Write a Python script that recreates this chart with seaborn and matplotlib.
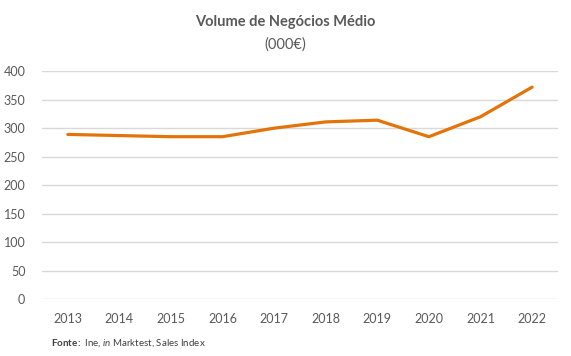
import pandas as pd
import matplotlib
matplotlib.use("Agg")
import matplotlib.pyplot as plt
import seaborn as sns

anos = ["2013", "2014", "2015", "2016", "2017", "2018", "2019", "2020", "2021", "2022"]
volume = [289, 287, 285, 285, 300, 311, 314, 285, 320, 372]
y_ticks = [0, 50, 100, 150, 200, 250, 300, 350, 400]

df = pd.DataFrame({"ano": anos, "volume": volume})

sns.set_theme(style="white")
plt.rcParams["font.family"] = ["Lato", "DejaVu Sans"]
plt.rcParams["mathtext.fontset"] = "custom"
plt.rcParams["mathtext.rm"] = "Lato"
plt.rcParams["mathtext.it"] = "Lato:italic"
plt.rcParams["mathtext.bf"] = "Lato:bold"

cinza = "#595959"
fig = plt.figure(figsize=(5.71, 3.56), dpi=100)
ax = fig.add_axes([0.0736, 0.160, 0.9034, 0.640])

sns.lineplot(data=df, x="ano", y="volume", sort=False, color="#E4740A",
             linewidth=2.3, ax=ax)

ax.set_xlim(-0.5, len(anos) - 0.5)
ax.set_ylim(0, 400)
ax.set_yticks(y_ticks)
for v in y_ticks:
    ax.axhline(v, color="#d9d9d9", linewidth=1, zorder=0)

sns.despine(ax=ax, left=True, bottom=True)
ax.set_xlabel("")
ax.set_ylabel("")
ax.tick_params(axis="both", length=0, labelsize=9, colors=cinza)
ax.tick_params(axis="y", pad=12)
ax.tick_params(axis="x", pad=10)

# titulo
fig.text(0.5, 0.938, "Volume de Negócios Médio", ha="center", va="center",
         fontsize=10.5, fontweight="bold", color=cinza)
fig.text(0.5, 0.876, "(000€)", ha="center", va="center", fontsize=10.5, color=cinza)

# fonte
fig.text(0.089, 0.036, r"$\bf{Fonte:}$ Ine, $\it{in}$ Marktest, Sales Index",
         ha="left", va="center", fontsize=7, color="#404040")

fig.savefig("out.png", dpi=100)
